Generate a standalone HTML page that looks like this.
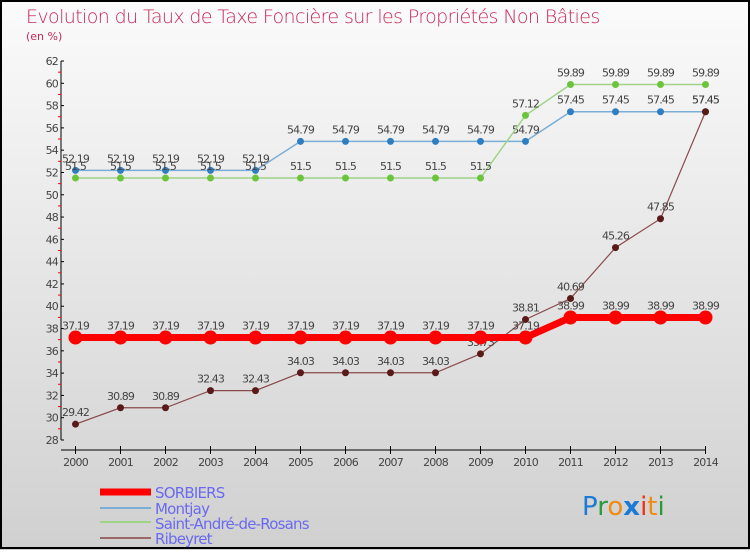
<!DOCTYPE html>
<html><head><meta charset="utf-8"><style>
html,body{margin:0;padding:0}
body{width:750px;height:550px;overflow:hidden;font-family:"DejaVu Sans","Liberation Sans",sans-serif}
</style></head><body>
<svg id="c" width="750" height="550" xmlns="http://www.w3.org/2000/svg">
<defs><linearGradient id="bg" x1="0" y1="0" x2="0" y2="1"><stop offset="0" stop-color="#fbfbfb"/><stop offset="1" stop-color="#d0d0d0"/></linearGradient></defs>
<rect x="0" y="0" width="750" height="550" fill="url(#bg)"/>
<rect x="1" y="1" width="748" height="547" fill="none" stroke="#000" stroke-width="2"/>
<text x="26" y="23" font-size="19" fill="#c8285a" font-family="'DejaVu Sans',sans-serif" style="font-weight:200" letter-spacing="-0.6">Evolution du Taux de Taxe Foncière sur les Propriétés Non Bâties</text>
<text x="26" y="40" font-size="11" fill="#c8285a">(en %)</text>
<g id="axes"></g><g id="series"></g>
<g>
<line x1="100" y1="492" x2="151" y2="492" stroke="#f00" stroke-width="7"/>
<text x="155" y="498" font-size="15" fill="#6a6af0" letter-spacing="-0.8">SORBIERS</text>
<line x1="100" y1="508" x2="151" y2="508" stroke="#7aaed6" stroke-width="2"/>
<text x="155" y="514" font-size="15" fill="#6a6af0" letter-spacing="-0.8">Montjay</text>
<line x1="100" y1="522" x2="151" y2="522" stroke="#9fd487" stroke-width="2"/>
<text x="155" y="529" font-size="15" fill="#6a6af0" letter-spacing="-0.8">Saint-André-de-Rosans</text>
<line x1="100" y1="538" x2="151" y2="538" stroke="#9a6868" stroke-width="2"/>
<text x="155" y="544" font-size="15" fill="#6a6af0" letter-spacing="-0.8">Ribeyret</text>
</g>
<g font-size="26" font-family="'DejaVu Sans',sans-serif">
<text x="582" y="515"><tspan fill="#1a7ad6">P</tspan><tspan fill="#2a9a3a">r</tspan><tspan fill="#f08a10">o</tspan><tspan fill="#1a7ad6" font-weight="bold">x</tspan><tspan fill="#f03010">i</tspan><tspan fill="#f08a10">t</tspan><tspan fill="#2a9a3a">i</tspan></text>
</g>
</svg>
<script>
const years=[2000,2001,2002,2003,2004,2005,2006,2007,2008,2009,2010,2011,2012,2013,2014];
const sorbiers=[37.19,37.19,37.19,37.19,37.19,37.19,37.19,37.19,37.19,37.19,37.19,38.99,38.99,38.99,38.99];
const montjay=[52.19,52.19,52.19,52.19,52.19,54.79,54.79,54.79,54.79,54.79,54.79,57.45,57.45,57.45,57.45];
const saintAndre=[51.5,51.5,51.5,51.5,51.5,51.5,51.5,51.5,51.5,51.5,57.12,59.89,59.89,59.89,59.89];
const ribeyret=[29.42,30.89,30.89,32.43,32.43,34.03,34.03,34.03,34.03,35.73,38.81,40.69,45.26,47.85,57.45];
const yTicks=[28,30,32,34,36,38,40,42,44,46,48,50,52,54,56,58,60,62];
const NS="http://www.w3.org/2000/svg";
const X=i=>75.5+i*45, Y=v=>440-(v-28)*11.147;
function mk(p,t,a){const e=document.createElementNS(NS,t);for(const k in a)e.setAttribute(k,a[k]);p.appendChild(e);return e;}
const ax=document.getElementById('axes');
let e=mk(ax,'line',{x1:61,y1:Y(62),x2:61,y2:440,stroke:'#000','stroke-width':1});


e=mk(ax,'line',{x1:61,y1:450,x2:X(14),y2:450,stroke:'#000','stroke-width':1});


yTicks.forEach((t,i)=>{
 const y=Y(t);
 mk(ax,'line',{x1:61,y1:y,x2:64,y2:y,stroke:'#000'});
 if(i<yTicks.length-1) mk(ax,'line',{x1:58,y1:Y(t+1),x2:61,y2:Y(t+1),stroke:'#f00'});
 const l=mk(ax,'text',{x:58,y:y+4,'font-size':11,fill:'#444','text-anchor':'end','letter-spacing':'-0.8'});
 l.textContent=t;
 
 
});
years.forEach((yr,i)=>{
 mk(ax,'line',{x1:X(i),y1:446,x2:X(i),y2:454,stroke:'#000'});
 const l=mk(ax,'text',{x:X(i),y:466,'font-size':11,fill:'#444','text-anchor':'middle','letter-spacing':'-0.8'});
 l.textContent=yr;
 
 
});
const sg=document.getElementById('series');
function draw(vals,name,color,w,dot,dotc){
 const g=mk(sg,'g',{});
 
 
 const l=mk(g,'polyline',{points:vals.map((v,i)=>X(i)+','+Y(v)).join(' '),fill:'none',stroke:color,'stroke-width':w});
 
 
 vals.forEach((v,i)=>{
  const c=mk(g,'circle',{cx:X(i),cy:Y(v),r:dot,fill:dotc});
  
  
  const t=mk(g,'text',{x:X(i),y:Y(v)-8,'font-size':11,fill:'#444','text-anchor':'middle','letter-spacing':'-0.9'});
  t.textContent=v;
  
  
 });
}
draw(montjay,'montjay','#7aaed6',1.5,3.5,'#2f7ec0');
draw(saintAndre,'saint-andre','#9fd487',1.5,3.5,'#6cc43c');
draw(ribeyret,'ribeyret','#8a4a4a',1.2,3.5,'#5a1a1a');
draw(sorbiers,'sorbiers','#f00',7,7,'#f00');
</script>
</body></html>
